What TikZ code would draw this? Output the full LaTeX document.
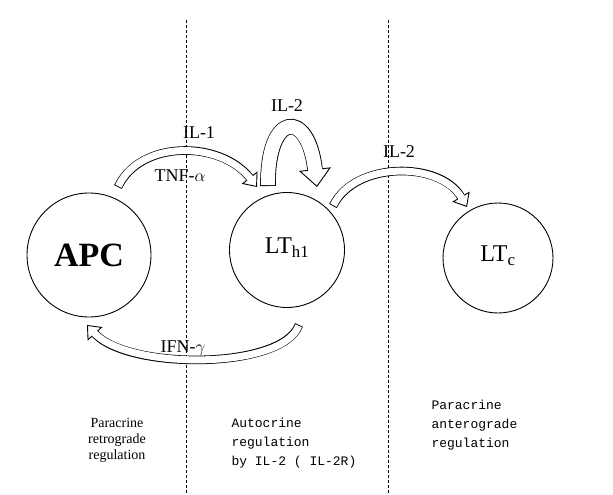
\documentclass[tikz,border=0pt]{standalone}
\usepackage{fontspec}
\setmainfont{Liberation Serif}
\newfontfamily\monof{Liberation Mono}
\usetikzlibrary{arrows.meta}
\tikzset{
 cell/.style={draw, circle, line width=0.9pt},
 lbl/.style={font=\fontsize{18}{20}\selectfont},
 sep/.style={densely dashed, line width=0.6pt},
 note/.style={font=\fontsize{14}{16}\selectfont, align=center},
 mnote/.style={font=\monof\fontsize{13}{19}\selectfont, align=left, anchor=north west},
}
\newcommand{\hollow}[4]{% width, headlen, headwidth, path
 \draw[line width=#1+1.6pt, -{Triangle[length=#2, width=#3, fill=white, line width=0.9pt]}] #4;
 \draw[white, line width=#1, shorten >=#2-1.5pt, shorten <=0.9pt] #4;}
\begin{document}
\begin{tikzpicture}[x=1pt,y=-1pt]
\useasboundingbox[fill=white] (0,0) rectangle (613,495);
\coordinate (t1) at (186,20); \coordinate (b1) at (186,495);
\coordinate (t2) at (388,20); \coordinate (b2) at (388,495);
\draw[sep] (t1) -- (b1);
\draw[sep] (t2) -- (b2);
\node[cell, minimum size=124pt] (apc) at (89,255) {};
\node[font=\fontsize{34}{36}\selectfont\bfseries] (apct) at (89,255) {APC};
\node[cell, minimum size=115pt] (th) at (287,250) {};
\node[font=\fontsize{24}{26}\selectfont] (tht) at (287,248) {LT$_{\mathrm{h1}}$};
\node[cell, minimum size=110pt] (tc) at (498,258) {};
\node[font=\fontsize{24}{26}\selectfont] (tct) at (498,256) {LT$_{\mathrm{c}}$};
\hollow{7pt}{12pt}{20pt}{(118,187) .. controls (140,140) and (220,140) .. (257,187)}
\hollow{7pt}{12pt}{20pt}{(333,206) .. controls (355,161) and (440,161) .. (467,207)}
\hollow{7pt}{12pt}{20pt}{(299,325) .. controls (282,370) and (128,370) .. (87,325)}
\hollow{14pt}{18pt}{32pt}{(268,186) .. controls (267,112) and (308,108) .. (317,187)}
\node[lbl] (il1) at (199,133) {IL-1};
\node[lbl] (tnf) at (180,176) {TNF-$\alpha$};
\node[lbl] (il2a) at (287,106) {IL-2};
\node[lbl] (il2b) at (399,152) {IL-2};
\node[lbl] (ifn) at (183,348) {IFN-$\gamma$};
\node[note] (n1) at (117,440) {Paracrine\\retrograde\\regulation};
\node[mnote] (n2) at (228,415) {Autocrine\\regulation\\by IL-2 ( IL-2R)};
\node[mnote] (n3) at (428,397) {Paracrine\\anterograde\\regulation};
\end{tikzpicture}
\end{document}
